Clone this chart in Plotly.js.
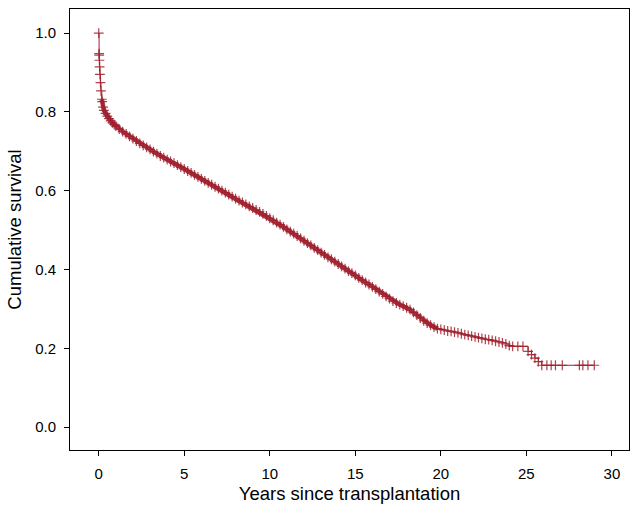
<!DOCTYPE html>
<html>
<head>
<meta charset="utf-8">
<script src="https://cdn.plot.ly/plotly-3.0.1.min.js"></script>
<style>html,body{margin:0;padding:0;background:#fff;}#chart{width:638px;height:509px;}</style>
</head>
<body>
<div id="chart"></div>
<script>
// Kaplan-Meier curve (years, cumulative survival)
var years = [0,0.02,0.03,0.04,0.05,0.07,0.10,0.13,0.18,0.20,0.25,0.30,0.40,0.50,0.60,0.70,0.80,0.90,1.00,1.20,1.40,1.60,1.80,2.00,2.20,2.40,2.60,2.80,3.00,3.20,3.40,3.60,3.80,4.00,4.20,4.40,4.60,4.80,5.00,5.20,5.40,5.60,5.80,6.00,6.20,6.40,6.60,6.80,7.00,7.20,7.40,7.60,7.80,8.00,8.20,8.40,8.60,8.80,9.00,9.20,9.40,9.60,9.80,10.00,10.20,10.40,10.60,10.80,11.00,11.20,11.40,11.60,11.80,12.00,12.20,12.40,12.60,12.80,13.00,13.20,13.40,13.60,13.80,14.00,14.20,14.40,14.60,14.80,15.00,15.20,15.40,15.60,15.80,16.00,16.20,16.40,16.60,16.80,17.00,17.20,17.40,17.60,17.80,18.00,18.20,18.40,18.60,18.80,19.00,19.20,19.40,19.60,19.80,20.00,20.20,20.40,20.60,20.80,21.00,21.20,21.40,21.60,21.80,22.00,22.20,22.40,22.60,22.80,23.00,23.20,23.40,23.60,23.80,24.00,24.20,24.50,24.80,25.10,25.30,25.50,25.70,25.90,26.20,26.45,26.70,27.10,28.10,28.30,28.60,28.97];
var survival = [1.000,0.948,0.944,0.931,0.914,0.895,0.874,0.853,0.832,0.826,0.812,0.804,0.796,0.789,0.783,0.777,0.772,0.768,0.764,0.756,0.750,0.744,0.738,0.732,0.726,0.720,0.715,0.710,0.705,0.699,0.694,0.688,0.684,0.679,0.674,0.670,0.665,0.660,0.655,0.650,0.645,0.640,0.635,0.630,0.625,0.620,0.615,0.610,0.605,0.600,0.595,0.590,0.585,0.580,0.575,0.570,0.565,0.560,0.556,0.551,0.546,0.541,0.536,0.530,0.525,0.519,0.514,0.508,0.502,0.496,0.491,0.485,0.479,0.473,0.467,0.461,0.455,0.449,0.443,0.437,0.431,0.426,0.420,0.414,0.408,0.402,0.396,0.391,0.385,0.379,0.373,0.367,0.362,0.356,0.350,0.344,0.338,0.332,0.326,0.320,0.315,0.311,0.307,0.303,0.298,0.291,0.284,0.277,0.270,0.264,0.259,0.254,0.250,0.248,0.246,0.244,0.243,0.241,0.239,0.237,0.235,0.233,0.231,0.229,0.227,0.225,0.223,0.222,0.220,0.218,0.216,0.214,0.211,0.207,0.205,0.205,0.205,0.192,0.184,0.175,0.166,0.157,0.157,0.157,0.157,0.157,0.157,0.157,0.157,0.157];
var xTicks = [0,5,10,15,20,25,30];
var yTicks = [0.0,0.2,0.4,0.6,0.8,1.0];
var yTickLabels = ['0.0','0.2','0.4','0.6','0.8','1.0'];

var red = 'rgb(160,32,46)';
// dense event region (many overlapping censor marks) drawn as a thicker band
var denseX = [], denseY = [];
for (var i = 0; i < years.length; i++) {
  if (years[i] >= 0.18 && years[i] <= 19.8) { denseX.push(years[i]); denseY.push(survival[i]); }
}
var band = {
  x: denseX, y: denseY, type: 'scatter', mode: 'lines',
  line: {color: red, width: 4.5}, opacity: 0.9,
  hoverinfo: 'skip', showlegend: false
};
var trace = {
  x: years, y: survival,
  type: 'scatter', mode: 'lines+markers',
  line: {shape: 'hv', color: red, width: 1},
  marker: {symbol: 'cross-thin', size: 7, color: red, line: {color: red, width: 1.2}, opacity: 0.85},
  hoverinfo: 'skip', showlegend: false
};
var fam = '"Liberation Sans", Arial, sans-serif';
var tickFont = {family: fam, size: 15, color: '#000'};
var titleFont = {family: fam, size: 18.5, color: '#000'};
var layout = {
  width: 638, height: 509,
  margin: {l: 70, r: 9, t: 9, b: 59},
  paper_bgcolor: '#fff', plot_bgcolor: '#fff',
  font: tickFont,
  xaxis: {
    range: [-1.68, 31.0], tickvals: xTicks, ticks: 'outside', ticklen: 5, tickwidth: 1, tickcolor: '#000',
    ticklabelstandoff: 5,
    showline: true, linecolor: '#000', linewidth: 1, mirror: true, showgrid: false, zeroline: false,
    tickfont: tickFont,
    title: {text: 'Years since transplantation', font: titleFont, standoff: 6}
  },
  yaxis: {
    range: [-0.058, 1.061], tickvals: yTicks, ticktext: yTickLabels, ticks: 'outside', ticklen: 5, tickwidth: 1, tickcolor: '#000',
    ticklabelstandoff: 5,
    showline: true, linecolor: '#000', linewidth: 1, mirror: true, showgrid: false, zeroline: false,
    tickfont: tickFont,
    title: {text: 'Cumulative survival', font: titleFont, standoff: 8}
  }
};
Plotly.newPlot('chart', [band, trace], layout, {staticPlot: true, displayModeBar: false});
</script>
</body>
</html>
